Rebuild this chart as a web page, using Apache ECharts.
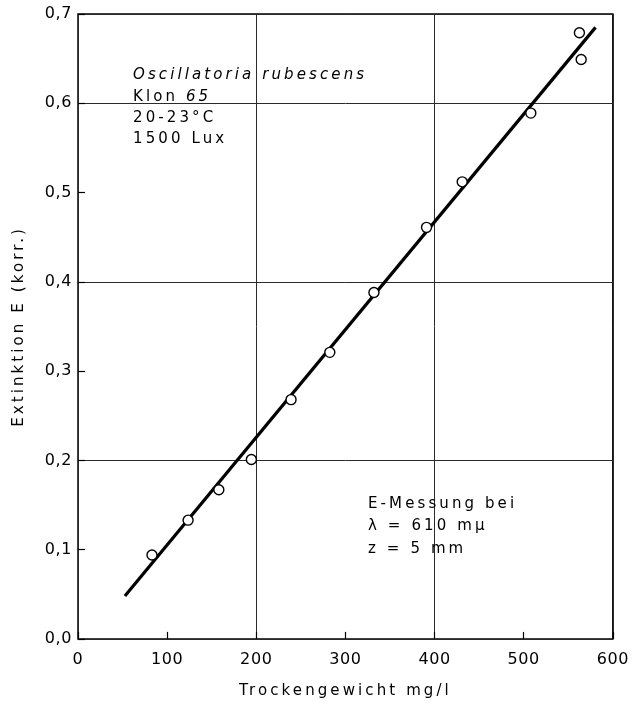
<!DOCTYPE html>
<html>
<head>
<meta charset="utf-8">
<script src="https://cdn.jsdelivr.net/npm/echarts@6/dist/echarts.min.js"></script>
<style>
html,body{margin:0;padding:0;background:#fff;}
#chart{width:632px;height:705px;}
</style>
</head>
<body>
<div id="chart"></div>
<script>
// Measured data (Trockengewicht mg/l vs Extinktion E)
const pointX = [83, 123.5, 158, 194.5, 239, 282.5, 332, 391, 431, 508, 562.5, 564.5];
const pointY = [0.094, 0.133, 0.167, 0.201, 0.268, 0.321, 0.388, 0.461, 0.512, 0.589, 0.679, 0.649];
// Regression line end points
const lineX = [52.6, 580.6];
const lineY = [0.048, 0.685];
// Tick labels
const xTickLabels = ['0', '100', '200', '300', '400', '500', '600'];
const yTickLabels = ['0,0', '0,1', '0,2', '0,3', '0,4', '0,5', '0,6', '0,7'];
// Annotation texts
const infoLeft = ['Oscillatoria rubescens', 'Klon 65', '20-23°C', '1500 Lux'];
const infoRight = ['E-Messung bei', 'λ = 610 mμ', 'z = 5 mm'];

// letter spacing for lettering-style text (15px text)
(function(){
  const P = CanvasRenderingContext2D.prototype;
  const sp = (ctx) => /(^|\s)15px/.test(ctx.font) ? '3.1px' : '0.6px';
  const ft = P.fillText, mt = P.measureText;
  P.fillText = function(t, x, y, m){
    const o = this.letterSpacing; this.letterSpacing = sp(this);
    const r = (m === undefined) ? ft.call(this, t, x, y) : ft.call(this, t, x, y, m);
    this.letterSpacing = o; return r;
  };
  P.measureText = function(t){
    const o = this.letterSpacing; this.letterSpacing = sp(this);
    const r = mt.call(this, t);
    this.letterSpacing = o; return r;
  };
})();

const FONT = 'DejaVu Sans';
const INK = '#000';
const chart = echarts.init(document.getElementById('chart'), null, {renderer: 'canvas'});

const pts = pointX.map((x, i) => [x, pointY[i]]);
const line = lineX.map((x, i) => [x, lineY[i]]);

function txt(x, y, text, extra) {
  return {
    type: 'text', left: x, top: y, z: 100,
    style: Object.assign({
      text: text, fill: INK, fontFamily: FONT, fontSize: 15,
      verticalAlign: 'middle', align: 'left'
    }, extra || {})
  };
}

const option = {
  backgroundColor: '#fff',
  animation: false,
  grid: {left: 78, right: 18, top: 14, bottom: 65, show: true, borderColor: INK, borderWidth: 1.5, backgroundColor: 'transparent'},
  xAxis: [{
    type: 'value', min: 0, max: 600, interval: 100,
    name: 'Trockengewicht mg/l', nameLocation: 'middle', nameGap: 43,
    nameTextStyle: {fontFamily: FONT, fontSize: 15, color: INK},
    axisLine: {show: false},
    axisTick: {show: true, inside: true, length: 7, lineStyle: {color: INK, width: 1.2}},
    axisLabel: {fontFamily: FONT, fontSize: 16, color: INK, margin: 13,
      formatter: (v) => xTickLabels[Math.round(v / 100)]},
    splitLine: {show: false}
  }, {
    type: 'value', min: 0, max: 600, interval: 200,
    axisLine: {show: false}, axisTick: {show: false}, axisLabel: {show: false},
    splitLine: {show: true, lineStyle: {color: '#2a2a2a', width: 1}}
  }],
  yAxis: [{
    type: 'value', min: 0, max: 0.7, interval: 0.1,
    name: 'Extinktion E (korr.)', nameLocation: 'middle', nameGap: 50,
    nameTextStyle: {fontFamily: FONT, fontSize: 15, color: INK},
    axisLine: {show: false},
    axisTick: {show: true, inside: true, length: 7, lineStyle: {color: INK, width: 1.2}},
    axisLabel: {fontFamily: FONT, fontSize: 16, color: INK, margin: 6,
      formatter: (v) => yTickLabels[Math.round(v * 10)]},
    splitLine: {show: false}
  }, {
    type: 'value', min: 0, max: 0.7, interval: 0.2, position: 'left',
    axisLine: {show: false}, axisTick: {show: false}, axisLabel: {show: false},
    splitLine: {show: true, lineStyle: {color: '#2a2a2a', width: 1}}
  }],
  series: [{
    type: 'line', data: line, xAxisIndex: 0, yAxisIndex: 0,
    symbol: 'none', lineStyle: {color: INK, width: 3.2}, z: 3
  }, {
    type: 'scatter', data: pts, xAxisIndex: 0, yAxisIndex: 0,
    symbol: 'circle', symbolSize: 10,
    itemStyle: {color: '#fff', borderColor: INK, borderWidth: 1.4, opacity: 1}, z: 5
  }],
  graphic: [
    txt(133, 66, infoLeft[0], {fontStyle: 'italic'}),
    {
      type: 'text', left: 133, top: 88, z: 100,
      style: {
        text: '{a|Klon }{b|65}', fill: INK, fontFamily: FONT, fontSize: 15,
        rich: {
          a: {fontFamily: FONT, fontSize: 15, color: INK},
          b: {fontFamily: FONT, fontSize: 15, color: INK, fontStyle: 'italic'}
        }
      }
    },
    txt(133, 109, infoLeft[2]),
    txt(133, 130, infoLeft[3]),
    txt(368, 495, infoRight[0]),
    txt(368, 517, infoRight[1]),
    txt(368, 540, infoRight[2])
  ]
};
chart.setOption(option);
</script>
</body>
</html>
